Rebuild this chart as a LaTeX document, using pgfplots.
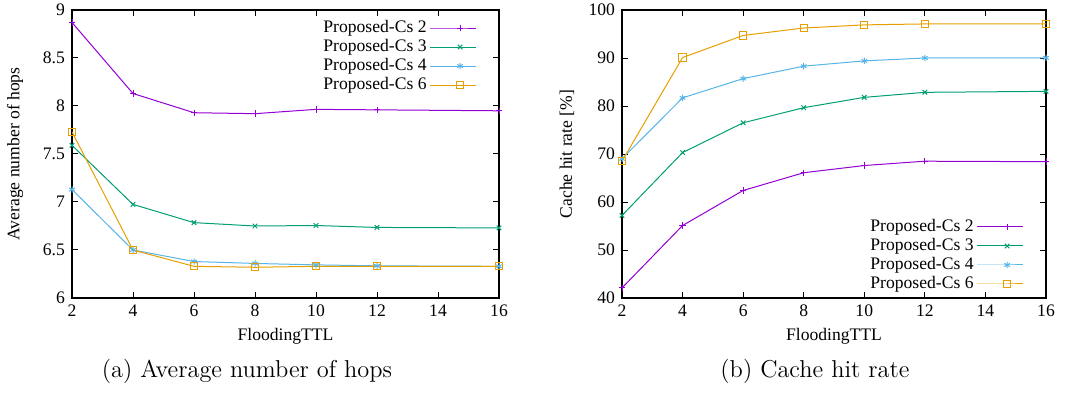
\documentclass[border=0pt]{standalone}
\usepackage{fontspec}
\usepackage{pgfplots}
\pgfplotsset{compat=1.18}
\newfontfamily\chartfont{Liberation Serif}
\newcommand\cf{\fontsize{8.8}{10}\chartfont}
\definecolor{cA}{HTML}{9400D3}
\definecolor{cB}{HTML}{009E73}
\definecolor{cC}{HTML}{56B4E9}
\definecolor{cD}{HTML}{E69F00}
\pgfplotsset{gp/.style={
  scale only axis, height=144pt,
  xmin=2, xmax=16, xtick={2,4,...,16},
  tick align=inside, tick pos=both, major tick length=3pt,
  minor tick num=0,
  axis line style={line width=0.6pt},
  every tick/.style={black, line width=0.5pt},
  tick label style={font=\cf},
  label style={font=\cf},
  /pgf/number format/assume math mode=true,
  xlabel={FloodingTTL},
  xlabel style={at={(axis description cs:0.5,-0.132)}, anchor=center},
  legend plot pos=right, legend cell align=right,
  legend style={draw=none, fill=none, font=\cf, inner sep=0pt, row sep=-1.1pt,
     nodes={inner sep=1.5pt}},
  legend image code/.code={\draw[mark repeat=2,mark phase=2,##1] plot coordinates {(0pt,0pt) (15pt,0pt) (23pt,0pt)};},
  every axis plot/.append style={line width=0.5pt, mark size=1.6pt, mark options={solid}},
}}
\begin{document}
\begin{tikzpicture}
\useasboundingbox (0,0) rectangle (543pt,203.5pt);
\begin{axis}[gp, at={(36pt,54.5pt)}, anchor=south west, width=213.5pt,
  ymin=6, ymax=9, ytick={6,6.5,...,9},
  ylabel={Average number of hops},
  ylabel style={at={(axis description cs:-0.1335,0.5)}, anchor=center},
  legend style={at={(axis description cs:1,1)}, anchor=north east, xshift=-11pt, yshift=-3.5pt}]
\addplot[cA, mark=+] coordinates {(2,8.87) (4,8.13) (6,7.93) (8,7.92) (10,7.965) (12,7.96) (16,7.95)};
\addplot[cB, mark=x] coordinates {(2,7.59) (4,6.975) (6,6.785) (8,6.75) (10,6.755) (12,6.735) (16,6.73)};
\addplot[cC, mark=asterisk] coordinates {(2,7.13) (4,6.50) (6,6.38) (8,6.36) (10,6.345) (12,6.335) (16,6.33)};
\addplot[cD, mark=square, mark size=1.8pt] coordinates {(2,7.73) (4,6.50) (6,6.33) (8,6.32) (10,6.33) (12,6.33) (16,6.33)};
\legend{Proposed-Cs 2, Proposed-Cs 3, Proposed-Cs 4, Proposed-Cs 6}
\end{axis}
\begin{axis}[gp, at={(311pt,54.5pt)}, anchor=south west, width=212pt,
  ymin=40, ymax=100, ytick={40,50,...,100},
  ylabel={Cache hit rate [\%]},
  ylabel style={at={(axis description cs:-0.1297,0.5)}, anchor=center},
  legend style={at={(axis description cs:1,0)}, anchor=south east, xshift=-11pt, yshift=1.5pt}]
\addplot[cA, mark=+] coordinates {(2,42.1) (4,55.1) (6,62.4) (8,66.1) (10,67.6) (12,68.5) (16,68.4)};
\addplot[cB, mark=x] coordinates {(2,57.2) (4,70.3) (6,76.5) (8,79.65) (10,81.8) (12,82.85) (16,83.05)};
\addplot[cC, mark=asterisk] coordinates {(2,69.0) (4,81.7) (6,85.7) (8,88.3) (10,89.4) (12,90.0) (16,90.05)};
\addplot[cD, mark=square, mark size=1.8pt] coordinates {(2,68.5) (4,90.1) (6,94.7) (8,96.25) (10,96.9) (12,97.1) (16,97.1)};
\legend{Proposed-Cs 2, Proposed-Cs 3, Proposed-Cs 4, Proposed-Cs 6}
\end{axis}
\node[font=\fontsize{12.2}{14}\selectfont] at (123.5pt,18pt) {(a) Average number of hops};
\node[font=\fontsize{12.2}{14}\selectfont] at (407.5pt,18pt) {(b) Cache hit rate};
\end{tikzpicture}
\end{document}
